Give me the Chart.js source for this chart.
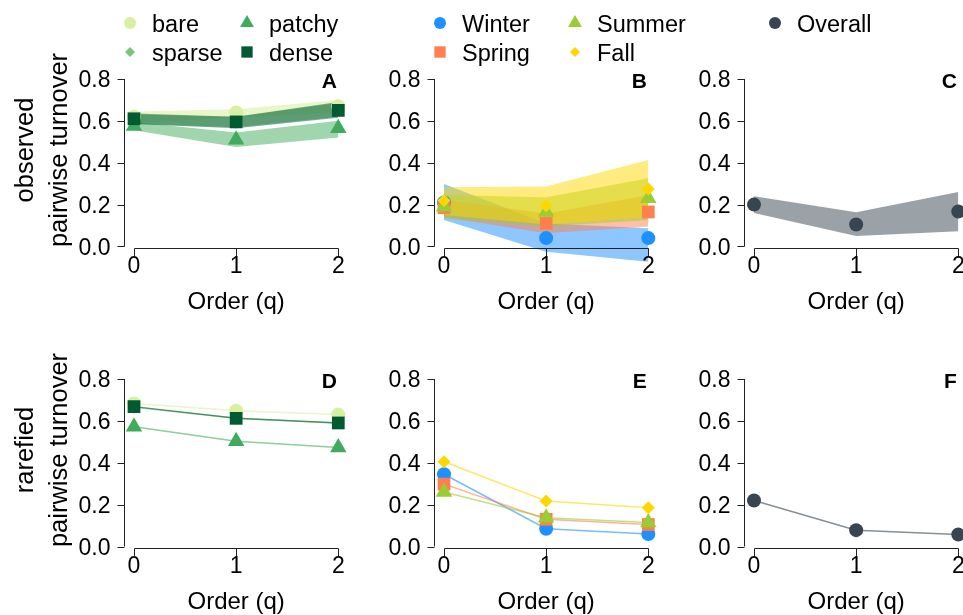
<!DOCTYPE html>
<html>
<head>
<meta charset="utf-8">
<script src="https://cdn.jsdelivr.net/npm/chart.js@4/dist/chart.umd.min.js"></script>
<style>
  body { margin: 0; background: #fff; }
  #wrap { position: relative; width: 963px; height: 615px; }
  #wrap canvas { position: absolute; left: 0; top: 0; }
</style>
</head>
<body>
<div id="wrap"></div>
<script>
// axes
const orders = [0, 1, 2];
const xTickLabels = ['0', '1', '2'];
const yTicks = [0, 0.2, 0.4, 0.6, 0.8];
const yTickLabels = ['0.0', '0.2', '0.4', '0.6', '0.8'];

const habitats = ['bare', 'sparse', 'patchy', 'dense'];
const seasons = ['Winter', 'Spring', 'Summer', 'Fall'];

// A - observed, habitat (mean, lower, upper)
const obsBare = [0.62, 0.64, 0.67];
const obsBareLo = [0.59, 0.615, 0.64];
const obsBareHi = [0.645, 0.655, 0.70];
const obsSparse = [0.605, 0.595, 0.65];
const obsSparseLo = [0.585, 0.57, 0.62];
const obsSparseHi = [0.63, 0.62, 0.685];
const obsPatchy = [0.575, 0.51, 0.565];
const obsPatchyLo = [0.555, 0.475, 0.52];
const obsPatchyHi = [0.595, 0.545, 0.60];
const obsDense = [0.61, 0.595, 0.65];
const obsDenseLo = [0.585, 0.565, 0.615];
const obsDenseHi = [0.635, 0.62, 0.69];

// B - observed, season
const obsWinter = [0.21, 0.04, 0.04];
const obsWinterLo = [0.127, -0.025, -0.073];
const obsWinterHi = [0.298, 0.11, 0.087];
const obsSpring = [0.185, 0.11, 0.165];
const obsSpringLo = [0.14, 0.063, 0.095];
const obsSpringHi = [0.225, 0.158, 0.246];
const obsSummer = [0.19, 0.165, 0.23];
const obsSummerLo = [0.135, 0.095, 0.127];
const obsSummerHi = [0.246, 0.235, 0.326];
const obsFall = [0.22, 0.195, 0.275];
const obsFallLo = [0.15, 0.105, 0.14];
const obsFallHi = [0.283, 0.286, 0.413];

// C - observed, overall
const obsOverall = [0.2, 0.105, 0.167];
const obsOverallLo = [0.16, 0.05, 0.073];
const obsOverallHi = [0.24, 0.163, 0.26];

// D - rarefied, habitat
const rarBare = [0.683, 0.648, 0.63];
const rarSparse = [0.665, 0.612, 0.59];
const rarPatchy = [0.572, 0.503, 0.473];
const rarDense = [0.668, 0.612, 0.59];

// E - rarefied, season
const rarWinter = [0.345, 0.085, 0.06];
const rarSpring = [0.298, 0.13, 0.105];
const rarSummer = [0.26, 0.137, 0.115];
const rarFall = [0.405, 0.217, 0.185];

// F - rarefied, overall
const rarOverall = [0.22, 0.078, 0.057];

const habitatColors = ['#d9f0a3', '#78c679', '#41ab5d', '#005a32'];
const habitatShapes = ['circle', 'rectRot', 'triangle', 'rect'];
const seasonColors = ['#1e90ff', '#ff7f50', '#9acd32', '#ffd700'];
const seasonShapes = ['circle', 'rect', 'triangle', 'rectRot'];
const overallColor = '#36454f';

const FONT = "'Liberation Sans', Arial, sans-serif";
const shapeRadius = { circle: 7, rect: 9, triangle: 9.5, rectRot: 6.5 };
const legendRadius = { circle: 6, rect: 8, triangle: 8, rectRot: 5 };

// layout (pixels)
const colX0 = [134, 444, 754];
const rowZero = [246.5, 546.5];
const xUnit = 102.15;
const yUnit = 209.4;
const xMin = -0.1, xMax = 2.02, yMin = -0.12, yMax = 0.85;

function rgba(hex, a) {
  const n = parseInt(hex.slice(1), 16);
  return 'rgba(' + (n >> 16) + ',' + ((n >> 8) & 255) + ',' + (n & 255) + ',' + a + ')';
}
const pts = vals => orders.map((q, i) => ({ x: q, y: vals[i] }));

function marker(ctx, style, r, x, y) {
  ctx.beginPath();
  if (style === 'circle') {
    ctx.arc(x, y, r, 0, Math.PI * 2);
  } else if (style === 'rect') {
    const s = r * Math.SQRT1_2;
    ctx.rect(x - s, y - s, 2 * s, 2 * s);
  } else if (style === 'rectRot') {
    ctx.moveTo(x, y - r); ctx.lineTo(x + r, y); ctx.lineTo(x, y + r); ctx.lineTo(x - r, y); ctx.closePath();
  } else {
    const h = r * Math.sqrt(3) / 2;
    ctx.moveTo(x, y - r); ctx.lineTo(x + h, y + r / 2); ctx.lineTo(x - h, y + r / 2); ctx.closePath();
  }
  ctx.fill();
}

function ribbon(color, lo, hi, ord, alpha) {
  return [
    { data: pts(lo), borderWidth: 0, borderColor: 'transparent', pointRadius: 0, fill: false, clip: false, order: ord },
    { data: pts(hi), borderWidth: 0, borderColor: 'transparent', pointRadius: 0, fill: '-1',
      backgroundColor: rgba(color, alpha), clip: false, order: ord }
  ];
}
function meanPoints(color, shape, vals, ord) {
  return { data: pts(vals), showLine: false, pointStyle: shape, pointRadius: shapeRadius[shape],
    pointBackgroundColor: color, pointBorderColor: color, pointBorderWidth: 0, clip: false, order: ord };
}
function meanLine(color, shape, vals, ord) {
  return { data: pts(vals), borderColor: rgba(color, 0.6), borderWidth: 1.5, pointStyle: shape,
    pointRadius: shapeRadius[shape], pointBackgroundColor: color, pointBorderColor: color,
    pointBorderWidth: 0, clip: false, order: ord };
}

const axesPlugin = {
  id: 'panelAxes',
  afterDraw(chart, args, opts) {
    const { ctx } = chart;
    const xs = chart.scales.x, ys = chart.scales.y;
    const ax = Math.round(xs.getPixelForValue(xMin)) + 0.5;
    const y0 = ys.getPixelForValue(0), y8 = ys.getPixelForValue(0.8);
    const xa = Math.round(y0 + 1.5) + 0.5;
    ctx.save();
    ctx.strokeStyle = '#222';
    ctx.lineWidth = 1;
    ctx.beginPath();
    ctx.moveTo(ax, y0); ctx.lineTo(ax, y8);
    yTicks.forEach(v => {
      const p = Math.round(ys.getPixelForValue(v)) + 0.5;
      ctx.moveTo(ax - 7, p); ctx.lineTo(ax, p);
    });
    const xl = Math.round(xs.getPixelForValue(orders[0])) + 0.5;
    const xr = Math.round(xs.getPixelForValue(orders[orders.length - 1])) + 0.5;
    ctx.moveTo(xl, xa); ctx.lineTo(xr, xa);
    orders.forEach(q => {
      const p = Math.round(xs.getPixelForValue(q)) + 0.5;
      ctx.moveTo(p, xa); ctx.lineTo(p, xa + 8);
    });
    ctx.stroke();

    ctx.fillStyle = '#000';
    ctx.font = '23px ' + FONT;
    ctx.textAlign = 'right';
    ctx.textBaseline = 'alphabetic';
    yTicks.forEach((v, i) => ctx.fillText(yTickLabels[i], ax - 14, ys.getPixelForValue(v) + 8.5));
    ctx.textAlign = 'center';
    orders.forEach((q, i) => ctx.fillText(xTickLabels[i], xs.getPixelForValue(q), y0 + 26.5));
    ctx.font = '24px ' + FONT;
    ctx.fillText('Order (q)', xs.getPixelForValue(1), y0 + 62.8);
    ctx.font = 'bold 21px ' + FONT;
    ctx.textAlign = 'right';
    ctx.fillText(opts.letter, xs.getPixelForValue(2) - 1.5, y8 + 9.3);
    ctx.restore();
  }
};

// legend + y titles drawn once on the first panel canvas
const legendCols = [130, 247, 440, 575, 775];
const legendRows = [23, 52];
const pagePlugin = {
  id: 'pageText',
  afterDraw(chart) {
    const { ctx } = chart;
    ctx.save();
    const items = [];
    habitats.forEach((h, i) => items.push({ t: h, c: habitatColors[i], s: habitatShapes[i], col: Math.floor(i / 2), row: i % 2 }));
    seasons.forEach((h, i) => items.push({ t: h, c: seasonColors[i], s: seasonShapes[i], col: 2 + Math.floor(i / 2), row: i % 2 }));
    items.push({ t: 'Overall', c: overallColor, s: 'circle', col: 4, row: 0 });
    ctx.font = '23.5px ' + FONT;
    ctx.textAlign = 'left';
    ctx.textBaseline = 'alphabetic';
    items.forEach(it => {
      const x = legendCols[it.col], y = legendRows[it.row];
      ctx.fillStyle = it.c;
      marker(ctx, it.s, legendRadius[it.s], x, y);
      ctx.fillStyle = '#000';
      ctx.fillText(it.t, x + 22, y + 8.5);
    });
    ctx.font = '25.5px ' + FONT;
    ctx.textAlign = 'center';
    [['observed', 150], ['rarefied', 450]].forEach(([word, cy]) => {
      ctx.save();
      ctx.translate(33.3, cy); ctx.rotate(-Math.PI / 2);
      ctx.fillText(word, 0, 0);
      ctx.restore();
      ctx.save();
      ctx.translate(66.5, cy); ctx.rotate(-Math.PI / 2);
      ctx.fillText('pairwise turnover', 0, 0);
      ctx.restore();
    });
    ctx.restore();
  }
};

const panelA = [
  ...ribbon(habitatColors[0], obsBareLo, obsBareHi, 14, 0.6),
  ...ribbon(habitatColors[1], obsSparseLo, obsSparseHi, 13, 0.5),
  ...ribbon(habitatColors[2], obsPatchyLo, obsPatchyHi, 12, 0.5),
  ...ribbon(habitatColors[3], obsDenseLo, obsDenseHi, 11, 0.5),
  meanPoints(habitatColors[0], habitatShapes[0], obsBare, 4),
  meanPoints(habitatColors[1], habitatShapes[1], obsSparse, 3),
  meanPoints(habitatColors[2], habitatShapes[2], obsPatchy, 2),
  meanPoints(habitatColors[3], habitatShapes[3], obsDense, 1)
];
const panelB = [
  ...ribbon(seasonColors[0], obsWinterLo, obsWinterHi, 14, 0.5),
  ...ribbon(seasonColors[1], obsSpringLo, obsSpringHi, 13, 0.5),
  ...ribbon(seasonColors[2], obsSummerLo, obsSummerHi, 12, 0.5),
  ...ribbon(seasonColors[3], obsFallLo, obsFallHi, 11, 0.5),
  meanPoints(seasonColors[0], seasonShapes[0], obsWinter, 4),
  meanPoints(seasonColors[1], seasonShapes[1], obsSpring, 3),
  meanPoints(seasonColors[2], seasonShapes[2], obsSummer, 2),
  meanPoints(seasonColors[3], seasonShapes[3], obsFall, 1)
];
const panelC = [
  ...ribbon(overallColor, obsOverallLo, obsOverallHi, 11, 0.5),
  meanPoints(overallColor, 'circle', obsOverall, 1)
];
const panelD = [
  meanLine(habitatColors[0], habitatShapes[0], rarBare, 4),
  meanLine(habitatColors[1], habitatShapes[1], rarSparse, 3),
  meanLine(habitatColors[2], habitatShapes[2], rarPatchy, 2),
  meanLine(habitatColors[3], habitatShapes[3], rarDense, 1)
];
const panelE = [
  meanLine(seasonColors[0], seasonShapes[0], rarWinter, 4),
  meanLine(seasonColors[1], seasonShapes[1], rarSpring, 3),
  meanLine(seasonColors[2], seasonShapes[2], rarSummer, 2),
  meanLine(seasonColors[3], seasonShapes[3], rarFall, 1)
];
const panelF = [meanLine(overallColor, 'circle', rarOverall, 1)];

const panels = [
  { letter: 'A', col: 0, row: 0, sets: panelA, page: true },
  { letter: 'B', col: 1, row: 0, sets: panelB },
  { letter: 'C', col: 2, row: 0, sets: panelC },
  { letter: 'D', col: 0, row: 1, sets: panelD },
  { letter: 'E', col: 1, row: 1, sets: panelE },
  { letter: 'F', col: 2, row: 1, sets: panelF }
];

const wrap = document.getElementById('wrap');
panels.forEach(p => {
  const cv = document.createElement('canvas');
  cv.width = 963; cv.height = 615;
  wrap.appendChild(cv);
  const x0 = colX0[p.col], z = rowZero[p.row];
  new Chart(cv, {
    type: 'line',
    data: { datasets: p.sets },
    options: {
      responsive: false,
      animation: false,
      events: [],
      layout: {
        autoPadding: false,
        padding: {
          left: x0 + xMin * xUnit,
          right: 963 - (x0 + xMax * xUnit),
          top: z - yMax * yUnit,
          bottom: 615 - (z - yMin * yUnit)
        }
      },
      plugins: { legend: { display: false }, tooltip: { enabled: false }, panelAxes: { letter: p.letter } },
      scales: {
        x: { type: 'linear', min: xMin, max: xMax, display: false },
        y: { type: 'linear', min: yMin, max: yMax, display: false }
      }
    },
    plugins: p.page ? [axesPlugin, pagePlugin] : [axesPlugin]
  });
});
</script>
</body>
</html>
